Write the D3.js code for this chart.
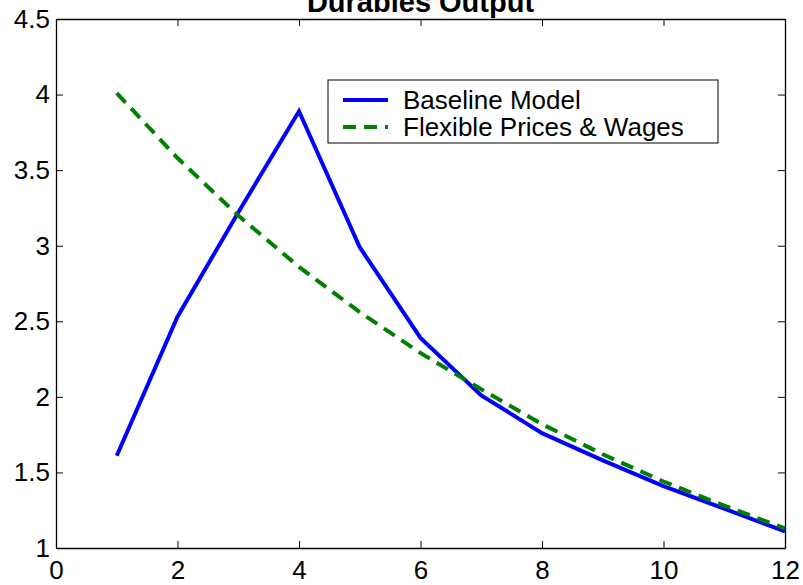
<!DOCTYPE html>
<html>
<head>
<meta charset="utf-8">
<script src="https://cdn.jsdelivr.net/npm/d3@7"></script>
<style>
  body { margin: 0; background: #fff; }
  svg text { font-family: "Liberation Sans", Arial, sans-serif; }
</style>
</head>
<body>
<div id="chart"></div>
<script>
"use strict";

// Data.
const periods = [1, 2, 3, 4, 5, 6, 7, 8, 9, 10, 11, 12];
const baseline = [1.61, 2.53, 3.22, 3.89, 2.99, 2.39, 2.01, 1.76, 1.58, 1.41, 1.26, 1.11];
const flexible = [4.01, 3.58, 3.20, 2.86, 2.56, 2.29, 2.05, 1.82, 1.62, 1.44, 1.28, 1.13];
const xTicks = [0, 2, 4, 6, 8, 10, 12];
const yTicks = [1, 1.5, 2, 2.5, 3, 3.5, 4, 4.5];
const seriesNames = ["Baseline Model", "Flexible Prices & Wages"];

const width = 803, height = 585;
const margin = {left: 56, right: 18, top: 19, bottom: 37};

const svg = d3.select("#chart").append("svg")
    .attr("width", width)
    .attr("height", height);

const x = d3.scaleLinear().domain([0, 12]).range([margin.left, width - margin.right]);
const y = d3.scaleLinear().domain([1, 4.5]).range([height - margin.bottom, margin.top]);

// Title (partly clipped at the top, as in the original).
svg.append("text")
    .attr("x", (x(0) + x(12)) / 2)
    .attr("y", 12)
    .attr("text-anchor", "middle")
    .style("font-size", "29px")
    .style("font-weight", "bold")
    .text("Durables Output");

// Axes with inward ticks, mirrored on top and right.
const tickLen = 7;
const bottomAxis = svg.append("g")
    .attr("transform", "translate(0," + y(1) + ")")
    .call(d3.axisBottom(x).tickValues(xTicks).tickSizeInner(-tickLen).tickSizeOuter(0).tickPadding(13));
const topAxis = svg.append("g")
    .attr("transform", "translate(0," + y(4.5) + ")")
    .call(d3.axisTop(x).tickValues(xTicks).tickSizeInner(-tickLen).tickSizeOuter(0).tickFormat(""));
const leftAxis = svg.append("g")
    .attr("transform", "translate(" + x(0) + ",0)")
    .call(d3.axisLeft(y).tickValues(yTicks).tickSizeInner(-tickLen).tickSizeOuter(0).tickPadding(6).tickFormat(d3.format("")));
const rightAxis = svg.append("g")
    .attr("transform", "translate(" + x(12) + ",0)")
    .call(d3.axisRight(y).tickValues(yTicks).tickSizeInner(-tickLen).tickSizeOuter(0).tickFormat(""));

[bottomAxis, topAxis, leftAxis, rightAxis].forEach(g => {
    g.select(".domain").attr("stroke", "#000").attr("stroke-width", 1.3);
    g.selectAll(".tick line").attr("stroke", "#000").attr("stroke-width", 1);
    g.selectAll(".tick text")
        .attr("fill", "#000")
        .style("font-family", "'Liberation Sans', Arial, sans-serif")
        .style("font-size", "26px");
});

// Lines.
const line = d3.line()
    .x((d, i) => x(periods[i]))
    .y(d => y(d));

svg.append("path")
    .datum(baseline)
    .attr("fill", "none")
    .attr("stroke", "#0000ff")
    .attr("stroke-width", 4)
    .attr("stroke-linejoin", "miter")
    .attr("d", line);

svg.append("path")
    .datum(flexible)
    .attr("fill", "none")
    .attr("stroke", "#008000")
    .attr("stroke-width", 4)
    .attr("stroke-dasharray", "13,8")
    .attr("d", line);

// Legend.
const legend = svg.append("g").attr("transform", "translate(328,80)");
legend.append("rect")
    .attr("width", 390)
    .attr("height", 63)
    .attr("fill", "#fff")
    .attr("stroke", "#000")
    .attr("stroke-width", 1);

const styles = [
    {color: "#0000ff", dash: null},
    {color: "#008000", dash: "13,8"}
];
seriesNames.forEach((name, i) => {
    const yy = 20 + i * 27;
    legend.append("line")
        .attr("x1", 15).attr("x2", 60)
        .attr("y1", yy).attr("y2", yy)
        .attr("stroke", styles[i].color)
        .attr("stroke-width", 4)
        .attr("stroke-dasharray", styles[i].dash);
    legend.append("text")
        .attr("x", 75)
        .attr("y", yy + 9)
        .style("font-size", "26px")
        .attr("fill", "#000")
        .text(name);
});
</script>
</body>
</html>
